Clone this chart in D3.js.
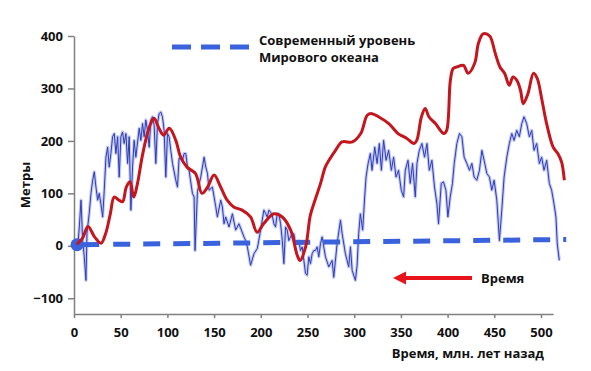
<!DOCTYPE html>
<html><head><meta charset="utf-8">
<script src="https://cdn.jsdelivr.net/npm/d3@7"></script>
<style>
body{margin:0;background:#fff}
svg text{font-family:"Open Sans",sans-serif;font-weight:700;fill:#111}
</style>
</head><body>
<svg id="c" width="591" height="371"></svg>
<script>
// ---- data ----
const xTicks = [0, 50, 100, 150, 200, 250, 300, 350, 400, 450, 500];
const yTicks = [-100, 0, 100, 200, 300, 400];

// modern sea level (dashed reference)
const seaAge = [0, 527];
const seaLevel = [2, 12];

// smoothed sea-level curve (red), age in Myr ago, level in m
const redAge = [3,9,15,22,29,34,39,43,48,52,56,60,64,68,73,79,84,86,91,96,102,109,114,121,130,137,143,150,157,164,171,180,189,196,203,214,223,232,239,242,248,253,258,264,269,273,280,287,298,307,314,319,326,337,347,356,364,367,372,376,380,387,396,399,403,406,410,417,422,429,433,438,445,451,456,461,466,470,474,478,481,486,492,496,501,506,513,518,522,525];
const redLevel = [3,14,37,17,5,24,62,93,87,84,112,122,93,119,170,217,240,243,224,211,224,201,170,150,138,100,112,135,112,87,74,68,55,26,42,61,55,30,-18,-28,-2,58,87,119,150,163,182,198,198,214,249,252,246,233,214,205,195,201,246,262,246,233,214,220,316,338,341,344,329,348,386,404,400,367,341,329,306,322,316,297,271,290,329,319,278,233,188,176,160,125];

// high-resolution sea-level record (blue)
const blueAge = [4,5.7,7.5,9.3,11,12.8,13.9,16.3,18.2,20,21.7,23.5,25.3,27,28.8,30.7,32.4,34.2,36,37.7,39.5,41.3,43.1,44.9,46.7,48.4,50.2,52,53.7,55.6,57.4,59.1,60.9,62.7,64.4,66.2,69.8,71.6,73.4,75.1,76.9,78.7,80.5,82.3,84.1,85.8,87.6,89.4,91.1,93,94.7,96.5,98.3,100.1,101.8,103.6,105.5,109,110.8,112.5,116.1,117.9,119.7,121.5,123.2,126.8,128.6,129.6,132.2,135.7,139.3,141.1,142.9,144.6,148.2,151.7,153.5,157.1,158.9,160.6,162.4,166,169.6,173.1,176.6,182,183.8,185.6,189.1,192.7,196.3,199.8,203.3,205.1,206.9,208.7,210.5,212.3,214,215.8,217.6,219.3,221.2,223,224.7,226.5,228.3,230,231.8,233.7,235.4,237.2,239,240.7,242.5,244.3,247.9,249.6,251.4,253.2,255,256.7,258.5,260.3,262.1,263.9,265.7,269.2,272.8,276.4,278.1,281.7,285.3,287.1,290.6,294.1,296,297.8,301.3,303.1,304.8,306.6,309.1,311.2,312.7,314.9,317.3,319.1,322,324.5,326.9,329.1,331.5,334.1,336.9,339.8,342.2,344.8,347.5,350.4,352.9,354.7,357.6,360,362.5,365.4,367.2,369.7,372.5,375.3,377.9,380.4,383.2,386,388.6,390.3,393.2,395.6,398.2,400.3,402.8,405.2,407.1,409.9,412.7,415.3,417.7,420.6,423.4,426,428.4,431.3,434.1,436.7,439.1,442,444.8,447.3,449.8,452.7,455.5,458,460.5,463.4,466.1,468.7,471.2,474,476.8,479.4,481.8,484.7,487.5,490.1,492.5,495.4,498.2,500.7,503.2,506.1,508.9,511.4,513.9,516,517.4,519.6];
const blueLevel = [-2,36,87,10,-21,-66,24,62,100,125,141,112,87,100,80,55,106,169,188,150,176,208,214,176,208,131,208,217,195,214,157,208,68,150,201,169,224,201,233,208,240,220,188,240,246,230,157,233,252,255,246,220,131,214,208,182,157,125,112,167,163,176,176,150,144,100,93,-9,104,131,169,150,138,106,112,75,55,87,74,42,55,36,61,30,42,17,10,-2,-37,-15,-5,30,68,62,55,68,64,58,42,36,61,61,42,10,-34,36,30,10,17,23,23,4,4,10,-9,-2,-53,-56,-21,-34,-15,-9,-9,-2,-21,4,17,-21,-40,-28,-60,4,49,23,-15,-40,-2,-47,-66,-37,23,61,30,93,131,157,176,144,188,157,195,144,201,163,182,144,169,131,144,106,93,144,163,119,157,93,157,182,195,169,195,144,163,112,80,42,119,122,106,55,93,119,157,195,214,208,169,157,144,157,131,125,144,182,163,138,131,106,125,87,10,68,131,169,195,214,201,220,208,233,246,233,208,220,182,195,157,169,144,163,119,106,80,55,4,-28];

// ---- chart ----
const svg = d3.select("#c");
const x = d3.scaleLinear().domain([0, 513]).range([74, 74 + 513 * 0.934]);
const y = d3.scaleLinear().domain([-130, 400]).range([314, 36]);

const axisCol = "#808080";

// y axis
const gy = svg.append("g").attr("transform", `translate(${x(0)},0)`)
  .call(d3.axisLeft(y).tickValues(yTicks).tickSize(6).tickSizeOuter(0).tickPadding(5));
// x axis
const gx = svg.append("g").attr("transform", `translate(0,${y(-130)})`)
  .call(d3.axisBottom(x).tickValues(xTicks).tickSize(4).tickSizeOuter(0).tickPadding(10));
[gx, gy].forEach(g => {
  g.select(".domain").attr("stroke", axisCol).attr("stroke-width", 1.5);
  g.selectAll(".tick line").attr("stroke", axisCol).attr("stroke-width", 1.5);
  g.selectAll(".tick text").attr("font-size", 13).attr("font-family", "Open Sans").attr("font-weight", 700).attr("fill", "#111");
});

// axis titles
svg.append("text").attr("transform", "translate(30,185) rotate(-90)")
  .attr("text-anchor", "middle").attr("font-size", 13).text("Метры");
svg.append("text").attr("x", 544).attr("y", 358).attr("text-anchor", "end")
  .attr("font-size", 13).text("Время, млн. лет назад");

// blue record
const blueData = d3.zip(blueAge, blueLevel);
const lineB = d3.line().x(d => x(d[0])).y(d => y(d[1]));
svg.append("path").datum(blueData).attr("d", lineB)
  .attr("fill", "none").attr("stroke", "#8f9ce6").attr("stroke-opacity", 0.55)
  .attr("stroke-width", 3.2).attr("stroke-linejoin", "round");
svg.append("path").datum(blueData).attr("d", lineB)
  .attr("fill", "none").attr("stroke", "#2f3cb8").attr("stroke-width", 1)
  .attr("stroke-linejoin", "round");

// modern sea level
const seaCol = "#3b62dd";
const seaY = a => seaLevel[0] + (seaLevel[1] - seaLevel[0]) * (a - seaAge[0]) / (seaAge[1] - seaAge[0]);
svg.append("line").attr("x1", x(seaAge[0])).attr("y1", y(seaY(seaAge[0])))
  .attr("x2", x(27)).attr("y2", y(seaY(27)))
  .attr("stroke", seaCol).attr("stroke-width", 5);
svg.append("line").attr("x1", x(42)).attr("y1", y(seaY(42)))
  .attr("x2", x(seaAge[1])).attr("y2", y(seaLevel[1]))
  .attr("stroke", seaCol).attr("stroke-width", 5).attr("stroke-dasharray", "17,13");
svg.append("circle").attr("cx", x(seaAge[0]) + 3).attr("cy", y(seaLevel[0]))
  .attr("r", 6.5).attr("fill", seaCol);

// red smoothed curve
const redData = d3.zip(redAge, redLevel);
svg.append("path").datum(redData)
  .attr("d", d3.line().x(d => x(d[0])).y(d => y(d[1])).curve(d3.curveCatmullRom.alpha(0.5)))
  .attr("fill", "none").attr("stroke", "#c4161c").attr("stroke-width", 3)
  .attr("stroke-linejoin", "round");

// legend
svg.append("line").attr("x1", 172).attr("x2", 250).attr("y1", 47).attr("y2", 47)
  .attr("stroke", seaCol).attr("stroke-width", 5).attr("stroke-dasharray", "19,10");
svg.append("text").attr("x", 259).attr("y", 45).attr("font-size", 13).text("Современный уровень");
svg.append("text").attr("x", 259).attr("y", 62).attr("font-size", 13).text("Мирового океана");

// time arrow annotation
svg.append("line").attr("x1", 404).attr("x2", 472).attr("y1", 278).attr("y2", 278)
  .attr("stroke", "#e8141c").attr("stroke-width", 4);
svg.append("path").attr("d", "M393,278 L406,271.5 L406,284.5 Z").attr("fill", "#e8141c");
svg.append("text").attr("x", 481).attr("y", 283).attr("font-size", 13).text("Время");
</script>
</body></html>
